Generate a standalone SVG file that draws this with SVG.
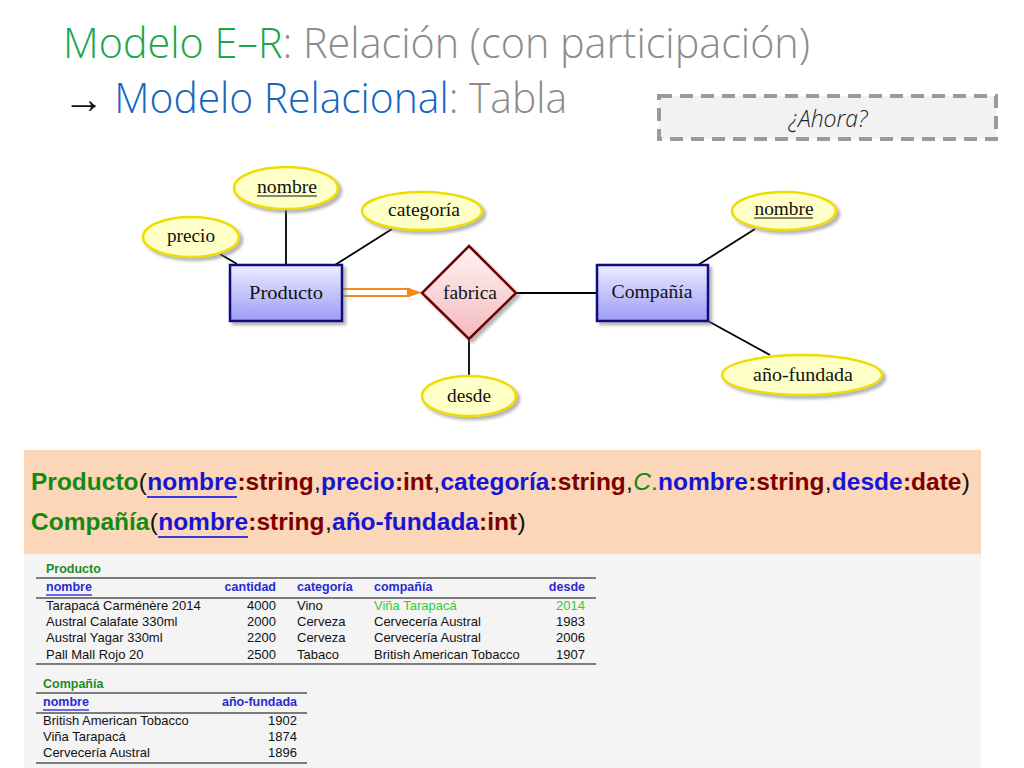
<svg xmlns="http://www.w3.org/2000/svg" width="1024" height="768" viewBox="0 0 1024 768">
<defs>
<linearGradient id="gEnt" x1="0" y1="0" x2="0" y2="1"><stop offset="0" stop-color="#ececff"/><stop offset="1" stop-color="#9c9cf6"/></linearGradient>
<linearGradient id="gRel" x1="0" y1="0" x2="0" y2="1"><stop offset="0" stop-color="#fff4f4"/><stop offset="1" stop-color="#f3b9be"/></linearGradient>
<filter id="sh" x="-20%" y="-20%" width="150%" height="150%"><feDropShadow dx="3" dy="3" stdDeviation="1.5" flood-color="#777" flood-opacity="0.55"/></filter>
<style>
.t1{font-family:"Open Sans","Liberation Sans",sans-serif;font-weight:300;font-size:42px}
.er{font-family:"Liberation Serif","DejaVu Serif",serif;font-size:18px;fill:#111;text-anchor:middle}
.ent{fill:url(#gEnt);stroke:#0a0a80;stroke-width:2.5}
.rel{fill:url(#gRel);stroke:#700000;stroke-width:2.5}
.att{fill:#ffffc8;stroke:#eedd00;stroke-width:2.5}
.ln{stroke:#000;stroke-width:1.8;fill:none}
.sc{font-family:"Liberation Sans","DejaVu Sans",sans-serif;font-weight:bold;font-size:24.5px}
.gr{fill:#138a13}.bl{fill:#1616d2}.rd{fill:#7d0000}.bk{fill:#111;font-weight:normal}
.nm{font-weight:normal}
.tb{font-family:"Liberation Sans","DejaVu Sans",sans-serif;font-size:13px;fill:#111}
.th{font-family:"Liberation Sans","DejaVu Sans",sans-serif;font-size:12.5px;font-weight:bold;fill:#2a2ad0}
.tt{font-family:"Liberation Sans","DejaVu Sans",sans-serif;font-size:12.5px;font-weight:bold;fill:#1e8c1e}
.r{text-anchor:end}
.rule{stroke:#555;stroke-width:1.5}
.lg{fill:#33cc33}
</style>
</defs>
<rect width="1024" height="768" fill="#fff"/>
<g id="title">
<text class="t1" x="63" y="58" textLength="747" lengthAdjust="spacingAndGlyphs"><tspan fill="#1aa64b">Modelo E–R</tspan><tspan fill="#8c8c8c">: Relación (con participación)</tspan></text>
<text class="t1" x="63" y="113" textLength="504" lengthAdjust="spacingAndGlyphs"><tspan fill="#111">→ </tspan><tspan fill="#1565c0">Modelo Relacional</tspan><tspan fill="#8c8c8c">: Tabla</tspan></text>
</g>
<g id="ahora">
<rect x="659" y="96" width="337" height="43" fill="#f2f2f2" stroke="#9a9a9a" stroke-width="4" stroke-dasharray="13 8"/>
<text x="828" y="127" text-anchor="middle" font-family="Open Sans, Liberation Sans, sans-serif" font-style="italic" font-weight="300" font-size="23" fill="#222">¿Ahora?</text>
</g>
<g id="connectors">
<line class="ln" x1="286" y1="209" x2="286" y2="265"/>
<line class="ln" x1="220" y1="254" x2="237" y2="264"/>
<line class="ln" x1="392" y1="229" x2="335" y2="265"/>
<line class="ln" x1="469" y1="339" x2="469" y2="376"/>
<line class="ln" x1="516" y1="293" x2="597" y2="293"/>
<line class="ln" x1="755" y1="229" x2="698" y2="265"/>
<line class="ln" x1="708" y1="321" x2="770" y2="355"/>
<line x1="343" y1="292.5" x2="410" y2="292.5" stroke="#f7881e" stroke-width="9"/>
<line x1="343" y1="292.5" x2="410" y2="292.5" stroke="#fff" stroke-width="5"/>
<polygon points="407,287.5 422,292.5 407,297.5" fill="#f7881e"/>
</g>
<g id="producto"><rect class="ent" x="230" y="265" width="112" height="56" filter="url(#sh)"/>
<text class="er" x="286" y="299" textLength="74" lengthAdjust="spacingAndGlyphs">Producto</text></g>
<g id="compania"><rect class="ent" x="597" y="265" width="111" height="56" filter="url(#sh)"/>
<text class="er" x="652" y="298" textLength="81" lengthAdjust="spacingAndGlyphs">Compañía</text></g>
<g id="fabrica"><polygon class="rel" points="469,246 516,293 469,339 422,293" filter="url(#sh)"/>
<text class="er" x="470" y="299" textLength="54" lengthAdjust="spacingAndGlyphs">fabrica</text></g>
<g id="att-nombre-p"><ellipse class="att" cx="286" cy="188" rx="52" ry="21" filter="url(#sh)"/>
<text class="er" x="287" y="193" textLength="60" lengthAdjust="spacingAndGlyphs">nombre</text>
<line x1="257" y1="196" x2="317" y2="196" stroke="#111" stroke-width="1"/></g>
<g id="att-precio"><ellipse class="att" cx="191" cy="237" rx="48" ry="20" filter="url(#sh)"/>
<text class="er" x="191" y="242" textLength="48" lengthAdjust="spacingAndGlyphs">precio</text></g>
<g id="att-categoria"><ellipse class="att" cx="422" cy="211" rx="60" ry="19" filter="url(#sh)"/>
<text class="er" x="424" y="216" textLength="72" lengthAdjust="spacingAndGlyphs">categoría</text></g>
<g id="att-desde"><ellipse class="att" cx="469" cy="396" rx="47" ry="20" filter="url(#sh)"/>
<text class="er" x="469" y="402" textLength="44" lengthAdjust="spacingAndGlyphs">desde</text></g>
<g id="att-nombre-c"><ellipse class="att" cx="784" cy="211" rx="52" ry="19" filter="url(#sh)"/>
<text class="er" x="784" y="215" textLength="59" lengthAdjust="spacingAndGlyphs">nombre</text>
<line x1="754" y1="218" x2="813" y2="218" stroke="#111" stroke-width="1"/></g>
<g id="att-anio"><ellipse class="att" cx="802" cy="375" rx="80" ry="20" filter="url(#sh)"/>
<text class="er" x="803" y="381" textLength="100" lengthAdjust="spacingAndGlyphs">año-fundada</text></g>
<g id="schema">
<rect x="24" y="450" width="957" height="104" fill="#fbd6b8"/>
<text class="sc gr" x="31" y="490">Producto</text>
<text class="sc bk" x="138.8" y="490">(</text>
<text class="sc bl" x="147.3" y="490">nombre</text>
<text class="sc rd" x="237.4" y="490">:string</text>
<text class="sc bk" x="314" y="490">,</text>
<text class="sc bl" x="321.1" y="490">precio</text>
<text class="sc rd" x="394.9" y="490">:int</text>
<text class="sc bk" x="433.3" y="490">,</text>
<text class="sc bl" x="440.4" y="490">categoría</text>
<text class="sc rd" x="549.6" y="490">:string</text>
<text class="sc bk" x="626.1" y="490">,</text>
<text class="sc gr nm" x="633.3" y="490"><tspan font-style="italic">C</tspan>.</text>
<text class="sc bl" x="658.1" y="490">nombre</text>
<text class="sc rd" x="748.2" y="490">:string</text>
<text class="sc bk" x="824.7" y="490">,</text>
<text class="sc bl" x="831.8" y="490">desde</text>
<text class="sc rd" x="902.9" y="490">:date</text>
<text class="sc bk" x="961.8" y="490">)</text>
<line x1="147" y1="497" x2="237" y2="497" stroke="#3a3ae0" stroke-width="1.8"/>
<text class="sc gr" x="31" y="530">Compañía</text>
<text class="sc bk" x="149.7" y="530">(</text>
<text class="sc bl" x="158.2" y="530">nombre</text>
<text class="sc rd" x="248.3" y="530">:string</text>
<text class="sc bk" x="324.9" y="530">,</text>
<text class="sc bl" x="332" y="530">año-fundada</text>
<text class="sc rd" x="479" y="530">:int</text>
<text class="sc bk" x="517.4" y="530">)</text>
<line x1="158" y1="537" x2="248" y2="537" stroke="#3a3ae0" stroke-width="1.8"/>
</g>
<g id="tables">
<rect x="24" y="554" width="957" height="214" fill="#f4f4f4"/>
<g id="tabla-producto">
<text class="tt" x="46" y="573">Producto</text>
<line class="rule" x1="36" y1="578" x2="596" y2="578"/>
<text class="th" x="46" y="591">nombre</text>
<line x1="46" y1="595" x2="92" y2="595" stroke="#6a6ae8" stroke-width="1.8"/>
<text class="th r" x="276" y="591">cantidad</text>
<text class="th" x="297" y="591">categoría</text>
<text class="th" x="374" y="591">compañía</text>
<text class="th r" x="585" y="591">desde</text>
<line class="rule" x1="36" y1="598" x2="596" y2="598"/>
<text class="tb" x="46" y="610">Tarapacá Carménère 2014</text><text class="tb r" x="276" y="610">4000</text><text class="tb" x="297" y="610">Vino</text><text class="tb lg" x="374" y="610">Viña Tarapacá</text><text class="tb r lg" x="585" y="610">2014</text>
<text class="tb" x="46" y="626">Austral Calafate 330ml</text><text class="tb r" x="276" y="626">2000</text><text class="tb" x="297" y="626">Cerveza</text><text class="tb" x="374" y="626">Cervecería Austral</text><text class="tb r" x="585" y="626">1983</text>
<text class="tb" x="46" y="642">Austral Yagar 330ml</text><text class="tb r" x="276" y="642">2200</text><text class="tb" x="297" y="642">Cerveza</text><text class="tb" x="374" y="642">Cervecería Austral</text><text class="tb r" x="585" y="642">2006</text>
<text class="tb" x="46" y="659">Pall Mall Rojo 20</text><text class="tb r" x="276" y="659">2500</text><text class="tb" x="297" y="659">Tabaco</text><text class="tb" x="374" y="659">British American Tobacco</text><text class="tb r" x="585" y="659">1907</text>
<line class="rule" x1="36" y1="664" x2="596" y2="664"/>
</g>
<g id="tabla-compania">
<text class="tt" x="43" y="688">Compañía</text>
<line class="rule" x1="36" y1="693" x2="307" y2="693"/>
<text class="th" x="43" y="706">nombre</text>
<line x1="43" y1="710" x2="89" y2="710" stroke="#6a6ae8" stroke-width="1.8"/>
<text class="th r" x="297" y="706">año-fundada</text>
<line class="rule" x1="36" y1="713" x2="307" y2="713"/>
<text class="tb" x="43" y="725">British American Tobacco</text><text class="tb r" x="297" y="725">1902</text>
<text class="tb" x="43" y="741">Viña Tarapacá</text><text class="tb r" x="297" y="741">1874</text>
<text class="tb" x="43" y="757">Cervecería Austral</text><text class="tb r" x="297" y="757">1896</text>
<line class="rule" x1="36" y1="763" x2="307" y2="763"/>
</g>
</g>
</svg>
